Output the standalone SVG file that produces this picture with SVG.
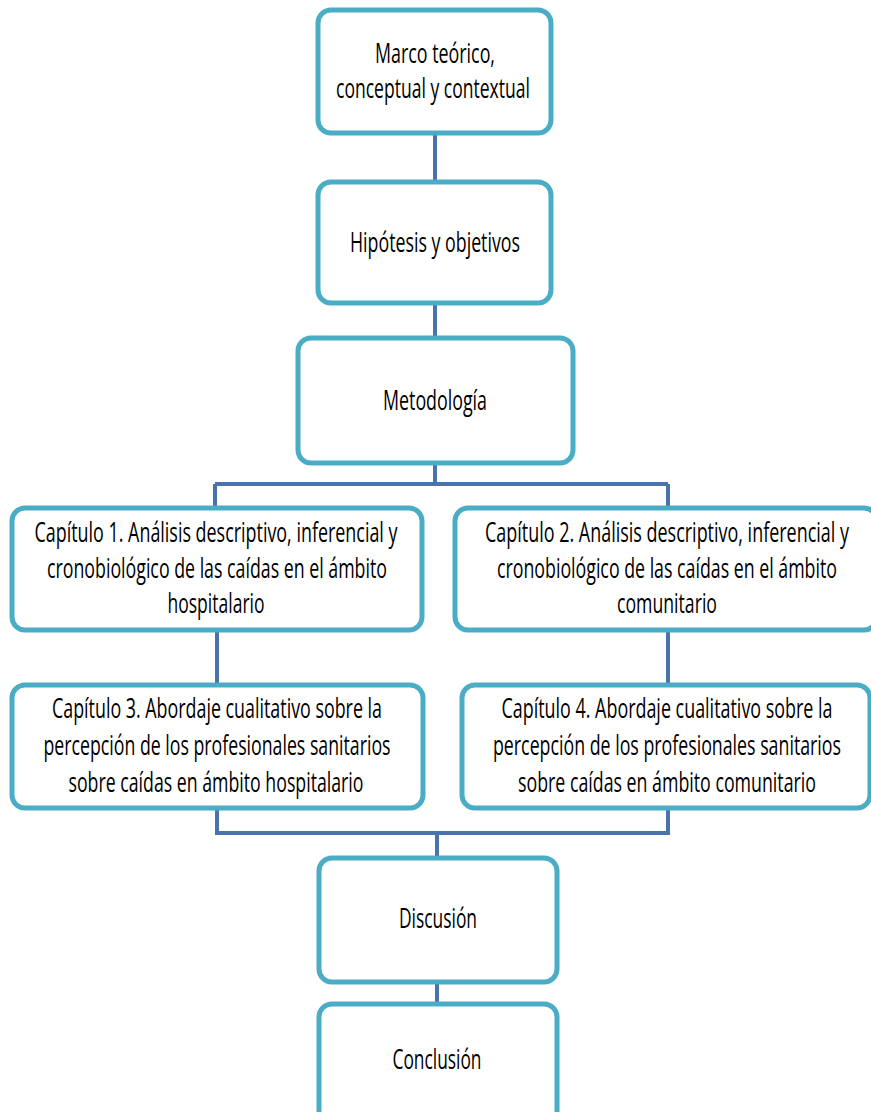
<svg xmlns="http://www.w3.org/2000/svg" width="871" height="1112" viewBox="0 0 871 1112">
<style>
.box{fill:#ffffff;stroke:#4bacc6;stroke-width:5}
.con{fill:none;stroke:#4a72ad;stroke-width:4}
text{font-family:"Open Sans","Liberation Sans",sans-serif;font-size:27px;fill:#000;text-anchor:middle}
</style>
<rect width="871" height="1112" fill="#ffffff"/>
<g id="connectors">
<path class="con" d="M435,133V182M435,303V338M435,463V484M215,484H668M215,484V508M668,484V508M217,630V685M668,630V685M217,808V833H668V808M437,833V858M437,982V1004"/>
</g>
<g id="marco">
<rect class="box" x="318" y="10" width="233" height="123" rx="13"/>
<text x="435" y="63" textLength="120" lengthAdjust="spacingAndGlyphs">Marco teórico,</text>
<text x="433" y="98" textLength="194" lengthAdjust="spacingAndGlyphs">conceptual y contextual</text>
</g>
<g id="hipotesis">
<rect class="box" x="318" y="182" width="233" height="121" rx="13"/>
<text x="435" y="252" textLength="170" lengthAdjust="spacingAndGlyphs">Hipótesis y objetivos</text>
</g>
<g id="metodologia">
<rect class="box" x="298" y="338" width="275" height="125" rx="13"/>
<text x="435" y="410" textLength="104" lengthAdjust="spacingAndGlyphs">Metodología</text>
</g>
<g id="cap1">
<rect class="box" x="12" y="508" width="410" height="122" rx="13"/>
<text x="216" y="542" textLength="363" lengthAdjust="spacingAndGlyphs">Capítulo 1. Análisis descriptivo, inferencial y</text>
<text x="217" y="578" textLength="340" lengthAdjust="spacingAndGlyphs">cronobiológico de las caídas en el ámbito</text>
<text x="216" y="613" textLength="97" lengthAdjust="spacingAndGlyphs">hospitalario</text>
</g>
<g id="cap2">
<rect class="box" x="455" y="508" width="422" height="122" rx="13"/>
<text x="667" y="542" textLength="364" lengthAdjust="spacingAndGlyphs">Capítulo 2. Análisis descriptivo, inferencial y</text>
<text x="667" y="578" textLength="340" lengthAdjust="spacingAndGlyphs">cronobiológico de las caídas en el ámbito</text>
<text x="667" y="613" textLength="100" lengthAdjust="spacingAndGlyphs">comunitario</text>
</g>
<g id="cap3">
<rect class="box" x="12" y="685" width="411" height="123" rx="13"/>
<text x="217" y="718" textLength="330" lengthAdjust="spacingAndGlyphs">Capítulo 3. Abordaje cualitativo sobre la</text>
<text x="217" y="755" textLength="347" lengthAdjust="spacingAndGlyphs">percepción de los profesionales sanitarios</text>
<text x="216" y="792" textLength="295" lengthAdjust="spacingAndGlyphs">sobre caídas en ámbito hospitalario</text>
</g>
<g id="cap4">
<rect class="box" x="462" y="685" width="408" height="123" rx="13"/>
<text x="667" y="718" textLength="331" lengthAdjust="spacingAndGlyphs">Capítulo 4. Abordaje cualitativo sobre la</text>
<text x="667" y="755" textLength="348" lengthAdjust="spacingAndGlyphs">percepción de los profesionales sanitarios</text>
<text x="667" y="792" textLength="298" lengthAdjust="spacingAndGlyphs">sobre caídas en ámbito comunitario</text>
</g>
<g id="discusion">
<rect class="box" x="319" y="858" width="238" height="124" rx="13"/>
<text x="438" y="928" textLength="78" lengthAdjust="spacingAndGlyphs">Discusión</text>
</g>
<g id="conclusion">
<rect class="box" x="319" y="1004" width="238" height="124" rx="13"/>
<text x="437" y="1069" textLength="89" lengthAdjust="spacingAndGlyphs">Conclusión</text>
</g>
</svg>
